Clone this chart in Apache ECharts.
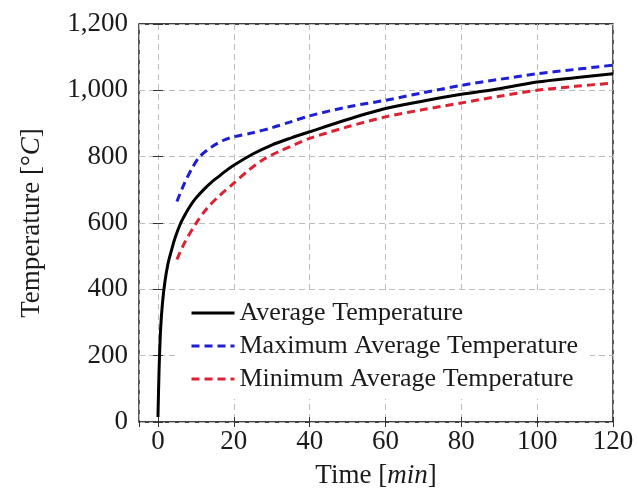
<!DOCTYPE html>
<html>
<head>
<meta charset="utf-8">
<script src="https://cdn.jsdelivr.net/npm/echarts@6/dist/echarts.min.js"></script>
<style>
  html, body { margin: 0; padding: 0; background: #fff; }
  #chart { width: 638px; height: 497px; }
</style>
</head>
<body>
<div id="chart"></div>
<script>
// Average furnace temperature over time
const avgTime = [0, 0.3, 0.7, 1.2, 1.8, 2.6, 3.5, 4.5, 6, 7, 8, 9, 10, 12, 14, 16, 18, 20, 25, 30, 35, 40, 50, 60, 70, 80, 90, 100, 110, 120];
const avgTemp = [15, 160, 280, 360, 420, 475, 515, 555, 600, 622, 642, 660, 675, 700, 722, 740, 758, 774, 808, 835, 856, 875, 912, 945, 968, 988, 1005, 1025, 1038, 1050];

// Upper envelope of the average temperature
const maxTime = [5, 7, 9, 11, 14, 17, 20, 25, 30, 35, 40, 50, 60, 70, 80, 90, 100, 110, 120];
const maxTemp = [665, 720, 765, 800, 828, 848, 860, 872, 887, 905, 923, 950, 970, 993, 1015, 1033, 1050, 1063, 1076];

// Lower envelope of the average temperature
const minTime = [5, 7, 10, 13, 16, 20, 24, 28, 32, 36, 40, 50, 60, 70, 80, 90, 100, 110, 120];
const minTemp = [490, 540, 598, 645, 680, 720, 760, 793, 816, 836, 855, 890, 920, 942, 962, 982, 1000, 1012, 1022];

const seriesNames = ['Average Temperature', 'Maximum Average Temperature', 'Minimum Average Temperature'];

const xRange = { min: -5, max: 120 };
const yRange = { min: 0, max: 1200, interval: 200 };

const pairs = (xs, ys) => xs.map((x, i) => [x, ys[i]]);

const FONT = '"Liberation Serif", "Times New Roman", serif';
const TEXT = '#1a1a1a';

const gridLine = { show: true, lineStyle: { color: '#bdbdbd', width: 1, type: [6, 4] } };
const innerTick = { show: true, inside: true, length: 5, lineStyle: { color: '#333', width: 1 } };

const chart = echarts.init(document.getElementById('chart'), null, { renderer: 'canvas' });

chart.setOption({
  animation: false,
  backgroundColor: '#fff',
  grid: {
    left: 139, right: 25, top: 24, bottom: 75,
    show: true, borderColor: '#000', borderWidth: 1.3, backgroundColor: 'transparent'
  },
  xAxis: [
    {
      type: 'value', min: xRange.min, max: xRange.max, splitNumber: 6,
      position: 'bottom',
      axisLine: { show: false },
      axisTick: innerTick,
      splitLine: gridLine,
      axisLabel: { showMinLabel: false, margin: 6, fontFamily: FONT, fontSize: 27, color: TEXT },
      name: '{a|Time [}{b|min}{a|]}',
      nameLocation: 'middle', nameGap: 40,
      nameTextStyle: {
        rich: {
          a: { fontFamily: FONT, fontSize: 27, color: TEXT },
          b: { fontFamily: FONT, fontSize: 27, color: TEXT, fontStyle: 'italic' }
        }
      }
    },
    {
      type: 'value', min: xRange.min, max: xRange.max, splitNumber: 6,
      position: 'top',
      axisLine: { show: false },
      axisTick: innerTick,
      splitLine: { show: false },
      axisLabel: { show: false }
    }
  ],
  yAxis: [
    {
      type: 'value', min: yRange.min, max: yRange.max, interval: yRange.interval,
      position: 'left',
      axisLine: { show: false },
      axisTick: innerTick,
      splitLine: gridLine,
      axisLabel: {
        margin: 11, fontFamily: FONT, fontSize: 27, color: TEXT,
        formatter: v => v.toLocaleString('en-US')
      },
      name: '{a|Temperature [°}{b|C}{a|]}',
      nameLocation: 'middle', nameGap: 94,
      nameTextStyle: {
        rich: {
          a: { fontFamily: FONT, fontSize: 27, color: TEXT },
          b: { fontFamily: FONT, fontSize: 27, color: TEXT, fontStyle: 'italic' }
        }
      }
    },
    {
      type: 'value', min: yRange.min, max: yRange.max, interval: yRange.interval,
      position: 'right',
      axisLine: { show: false },
      axisTick: innerTick,
      splitLine: { show: false },
      axisLabel: { show: false }
    }
  ],
  legend: {
    orient: 'vertical',
    left: 177, top: 293,
    padding: [5, 12, 5, 13],
    backgroundColor: '#fff',
    itemWidth: 43, itemHeight: 14, itemGap: 3,
    itemStyle: { color: 'transparent', borderWidth: 0 },
    lineStyle: { width: 3 },
    textStyle: { fontFamily: FONT, fontSize: 26, lineHeight: 30, color: TEXT },
    data: seriesNames
  },
  series: [
    {
      name: seriesNames[0], type: 'line', data: pairs(avgTime, avgTemp),
      showSymbol: false, symbol: 'none', smooth: 0.3,
      lineStyle: { color: '#000', width: 3 }, itemStyle: { color: '#000' }
    },
    {
      name: seriesNames[1], type: 'line', data: pairs(maxTime, maxTemp),
      showSymbol: false, symbol: 'none', smooth: 0.3,
      lineStyle: { color: '#1e1ed2', width: 3, type: [8, 5] }, itemStyle: { color: '#1e1ed2' }
    },
    {
      name: seriesNames[2], type: 'line', data: pairs(minTime, minTemp),
      showSymbol: false, symbol: 'none', smooth: 0.3,
      lineStyle: { color: '#da2233', width: 3, type: [8, 5] }, itemStyle: { color: '#da2233' }
    }
  ]
});
</script>
</body>
</html>
